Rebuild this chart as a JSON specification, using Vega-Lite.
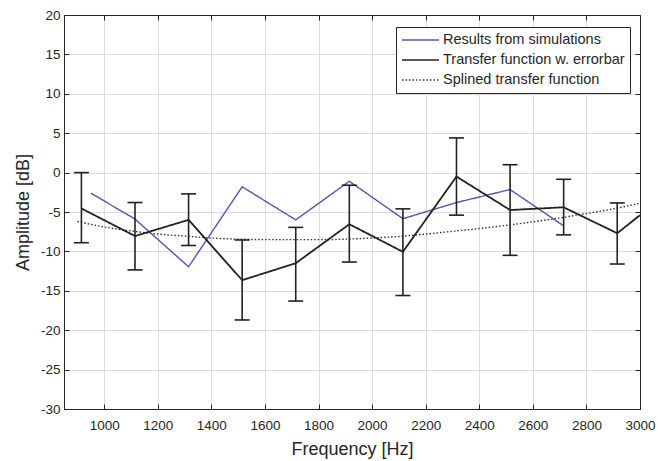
{
  "$schema": "https://vega.github.io/schema/vega-lite/v6.json",
  "width": 576,
  "height": 394,
  "autosize": {"type": "none"},
  "padding": {"left": 64, "top": 15, "right": 18, "bottom": 52},
  "background": "white",
  "config": {
    "font": "Liberation Sans",
    "view": {"stroke": "#262626", "strokeWidth": 1},
    "axis": {
      "labelFont": "Liberation Sans",
      "titleFont": "Liberation Sans",
      "labelFontSize": 13.5,
      "labelColor": "#262626",
      "titleFontSize": 18,
      "titleFontWeight": "normal",
      "titleColor": "#262626",
      "domainColor": "#262626",
      "tickColor": "#262626",
      "gridColor": "#dcdcdc",
      "gridOpacity": 1,
      "tickSize": -5,
      "labelPadding": 10,
      "labelFlush": false,
      "labelOverlap": false,
      "labelExpr": "'' + datum.value"
    },
    "legend": {
      "labelFont": "Liberation Sans",
      "labelFontSize": 14.5,
      "labelColor": "#262626",
      "labelLimit": 400
    }
  },
  "datasets": {
    "tf": [
      {"freq": 915, "amp": -4.55, "lo": -8.9, "hi": 0.0, "series": "Transfer function w. errorbar"},
      {"freq": 1115, "amp": -8.05, "lo": -12.35, "hi": -3.8, "series": "Transfer function w. errorbar"},
      {"freq": 1315, "amp": -6.0, "lo": -9.25, "hi": -2.7, "series": "Transfer function w. errorbar"},
      {"freq": 1515, "amp": -13.65, "lo": -18.7, "hi": -8.55, "series": "Transfer function w. errorbar"},
      {"freq": 1715, "amp": -11.5, "lo": -16.3, "hi": -6.95, "series": "Transfer function w. errorbar"},
      {"freq": 1915, "amp": -6.55, "lo": -11.35, "hi": -1.6, "series": "Transfer function w. errorbar"},
      {"freq": 2115, "amp": -10.05, "lo": -15.6, "hi": -4.6, "series": "Transfer function w. errorbar"},
      {"freq": 2315, "amp": -0.5, "lo": -5.4, "hi": 4.4, "series": "Transfer function w. errorbar"},
      {"freq": 2515, "amp": -4.75, "lo": -10.5, "hi": 1.0, "series": "Transfer function w. errorbar"},
      {"freq": 2715, "amp": -4.4, "lo": -7.9, "hi": -0.85, "series": "Transfer function w. errorbar"},
      {"freq": 2915, "amp": -7.7, "lo": -11.6, "hi": -3.85, "series": "Transfer function w. errorbar"},
      {"freq": 3000, "amp": -5.4, "lo": null, "hi": null, "series": "Transfer function w. errorbar"}
    ],
    "sim": [
      {"freq": 950, "amp": -2.6, "series": "Results from simulations"},
      {"freq": 1115, "amp": -5.9, "series": "Results from simulations"},
      {"freq": 1315, "amp": -11.95, "series": "Results from simulations"},
      {"freq": 1515, "amp": -1.8, "series": "Results from simulations"},
      {"freq": 1715, "amp": -6.0, "series": "Results from simulations"},
      {"freq": 1915, "amp": -1.1, "series": "Results from simulations"},
      {"freq": 2115, "amp": -5.85, "series": "Results from simulations"},
      {"freq": 2315, "amp": -3.8, "series": "Results from simulations"},
      {"freq": 2515, "amp": -2.15, "series": "Results from simulations"},
      {"freq": 2715, "amp": -6.75, "series": "Results from simulations"}
    ],
    "spline": [
      {"freq": 900, "amp": -6.2, "series": "Splined transfer function"},
      {"freq": 1000, "amp": -6.9, "series": "Splined transfer function"},
      {"freq": 1100, "amp": -7.4, "series": "Splined transfer function"},
      {"freq": 1200, "amp": -7.8, "series": "Splined transfer function"},
      {"freq": 1300, "amp": -8.05, "series": "Splined transfer function"},
      {"freq": 1400, "amp": -8.3, "series": "Splined transfer function"},
      {"freq": 1500, "amp": -8.45, "series": "Splined transfer function"},
      {"freq": 1600, "amp": -8.5, "series": "Splined transfer function"},
      {"freq": 1700, "amp": -8.5, "series": "Splined transfer function"},
      {"freq": 1800, "amp": -8.5, "series": "Splined transfer function"},
      {"freq": 1900, "amp": -8.45, "series": "Splined transfer function"},
      {"freq": 2000, "amp": -8.3, "series": "Splined transfer function"},
      {"freq": 2100, "amp": -8.1, "series": "Splined transfer function"},
      {"freq": 2200, "amp": -7.8, "series": "Splined transfer function"},
      {"freq": 2300, "amp": -7.45, "series": "Splined transfer function"},
      {"freq": 2400, "amp": -7.1, "series": "Splined transfer function"},
      {"freq": 2500, "amp": -6.7, "series": "Splined transfer function"},
      {"freq": 2600, "amp": -6.25, "series": "Splined transfer function"},
      {"freq": 2700, "amp": -5.75, "series": "Splined transfer function"},
      {"freq": 2800, "amp": -5.2, "series": "Splined transfer function"},
      {"freq": 2900, "amp": -4.6, "series": "Splined transfer function"},
      {"freq": 3000, "amp": -3.9, "series": "Splined transfer function"}
    ]
  },
  "layer": [
    {
      "data": {"name": "spline"},
      "mark": {"type": "line", "interpolate": "monotone", "strokeWidth": 1.4},
      "encoding": {
        "x": {
          "field": "freq", "type": "quantitative",
          "scale": {"domain": [850, 3000], "nice": false, "zero": false},
          "axis": {"orient": "bottom", "title": "Frequency [Hz]", "values": [1000, 1200, 1400, 1600, 1800, 2000, 2200, 2400, 2600, 2800, 3000], "grid": true, "labelPadding": 14, "titlePadding": 9}
        },
        "y": {
          "field": "amp", "type": "quantitative",
          "scale": {"domain": [-30, 20], "nice": false, "zero": false},
          "axis": {"orient": "left", "title": "Amplitude [dB]", "values": [-30, -25, -20, -15, -10, -5, 0, 5, 10, 15, 20], "grid": true, "labelPadding": 9, "titlePadding": 8}
        },
        "color": {
          "field": "series", "type": "nominal",
          "scale": {"domain": ["Results from simulations", "Transfer function w. errorbar", "Splined transfer function"], "range": ["#5558a8", "#222222", "#333333"]},
          "legend": {"title": null, "orient": "none", "legendX": 332, "legendY": 12, "fillColor": "white", "strokeColor": "#262626", "padding": 5, "symbolType": "stroke", "symbolSize": 1369, "symbolStrokeWidth": 1.5, "labelOffset": 3, "rowPadding": 4, "clipHeight": 16}
        },
        "strokeDash": {
          "field": "series", "type": "nominal",
          "scale": {"domain": ["Results from simulations", "Transfer function w. errorbar", "Splined transfer function"], "range": [[1, 0], [1, 0], [1.5, 2]]},
          "legend": {"title": null, "orient": "none", "legendX": 332, "legendY": 12, "fillColor": "white", "strokeColor": "#262626", "padding": 5, "symbolType": "stroke", "symbolSize": 1369, "symbolStrokeWidth": 1.5, "labelOffset": 3, "rowPadding": 4, "clipHeight": 16}
        }
      }
    },
    {
      "data": {"name": "sim"},
      "mark": {"type": "line", "strokeWidth": 1.4},
      "encoding": {
        "x": {"field": "freq", "type": "quantitative", "axis": null},
        "y": {"field": "amp", "type": "quantitative", "axis": null},
        "color": {"field": "series", "type": "nominal"},
        "strokeDash": {"field": "series", "type": "nominal"}
      }
    },
    {
      "data": {"name": "tf"},
      "mark": {"type": "line", "strokeWidth": 1.8},
      "encoding": {
        "x": {"field": "freq", "type": "quantitative", "axis": null},
        "y": {"field": "amp", "type": "quantitative", "axis": null},
        "color": {"field": "series", "type": "nominal"},
        "strokeDash": {"field": "series", "type": "nominal"}
      }
    },
    {
      "data": {"name": "tf"},
      "mark": {"type": "rule", "strokeWidth": 1.6, "color": "#222222"},
      "encoding": {
        "x": {"field": "freq", "type": "quantitative", "axis": null},
        "y": {"field": "lo", "type": "quantitative", "axis": null},
        "y2": {"field": "hi"}
      }
    },
    {
      "data": {"name": "tf"},
      "mark": {"type": "tick", "orient": "horizontal", "size": 15, "thickness": 1.6, "color": "#222222", "opacity": 1},
      "encoding": {
        "x": {"field": "freq", "type": "quantitative", "axis": null},
        "y": {"field": "hi", "type": "quantitative", "axis": null}
      }
    },
    {
      "data": {"name": "tf"},
      "mark": {"type": "tick", "orient": "horizontal", "size": 15, "thickness": 1.6, "color": "#222222", "opacity": 1},
      "encoding": {
        "x": {"field": "freq", "type": "quantitative", "axis": {"orient": "top", "labels": false, "title": null, "grid": false, "values": [1000, 1200, 1400, 1600, 1800, 2000, 2200, 2400, 2600, 2800, 3000]}},
        "y": {"field": "lo", "type": "quantitative", "axis": {"orient": "right", "labels": false, "title": null, "grid": false, "values": [-30, -25, -20, -15, -10, -5, 0, 5, 10, 15, 20]}}
      }
    }
  ],
  "resolve": {"axis": {"x": "independent", "y": "independent"}}
}
